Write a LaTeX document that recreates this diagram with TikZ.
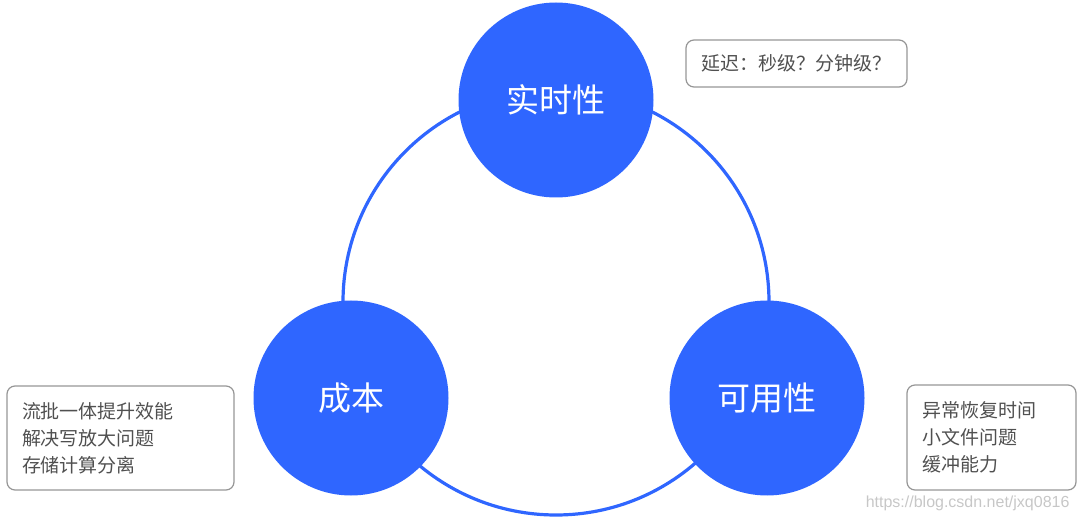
\documentclass[tikz,border=0pt]{standalone}
\usepackage{fontspec}
\setmainfont{Noto Sans CJK SC}
\newfontfamily\wmfont{Liberation Sans}

\definecolor{hubblue}{RGB}{47,102,255}
\definecolor{notegray}{RGB}{150,150,150}
\definecolor{notetext}{RGB}{80,80,80}

\tikzset{
  hub/.style={circle, fill=hubblue, text=white, minimum size=195pt,
    inner sep=0pt, font=\fontsize{33}{36}\selectfont},
  note/.style={draw=notegray, line width=1.2pt, rounded corners=8pt,
    text=notetext, align=left, inner xsep=15pt, inner ysep=0pt,
    font=\fontsize{19}{27}\selectfont}
}

\begin{document}
\begin{tikzpicture}[x=1pt,y=-1pt]
\useasboundingbox (0,0) rectangle (1080,521);

% Ring
\draw[hubblue, line width=3.2pt] (556,302) circle (213);

% Hubs
\node[hub] (rt) at (556,100) {实时性};
\node[hub] (cost) at (351,398) {成本};
\node[hub] (avail) at (767,398) {可用性};

% Notes
\node[note, minimum width=221pt, minimum height=47pt, text width=191pt]
  (rtnote) at (796.5,63.5) {延迟：秒级？分钟级？};
\node[note, minimum width=227pt, minimum height=104pt, text width=197pt]
  (costnote) at (120.5,438) {流批一体提升效能\\解决写放大问题\\存储计算分离};
\node[note, minimum width=169pt, minimum height=105pt, text width=139pt]
  (availnote) at (991.5,437.5) {异常恢复时间\\小文件问题\\缓冲能力};

% Watermark
\node[text=black!22, font=\wmfont\fontsize{16}{18}\selectfont, anchor=east]
  (wm) at (1073,503) {https://blog.csdn.net/jxq0816};

\end{tikzpicture}
\end{document}
